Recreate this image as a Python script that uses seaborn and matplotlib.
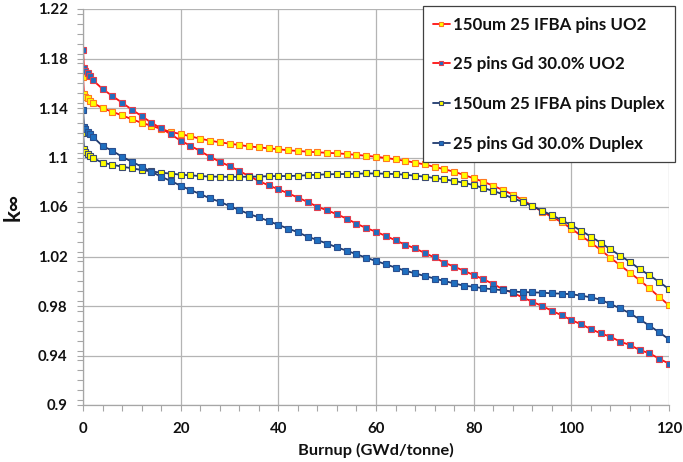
import numpy as np
import pandas as pd
import matplotlib
matplotlib.use("Agg")
import matplotlib.pyplot as plt
from matplotlib.ticker import MultipleLocator, FuncFormatter
import seaborn as sns

# Depletion steps (GWd/tonne)
burnup = [0, 0.2, 0.5, 1, 1.5, 2] + list(range(4, 121, 2))

ifba_uo2 = [
    1.1650, 1.1510, 1.1490, 1.1478, 1.1460, 1.1443,
    1.1398, 1.1370, 1.1340, 1.1310, 1.1280, 1.1257, 1.1230, 1.1206, 1.1190,
    1.1171, 1.1152, 1.1136, 1.1123, 1.1112, 1.1101, 1.1090, 1.1082, 1.1074,
    1.1067, 1.1058, 1.1053, 1.1047, 1.1042, 1.1038, 1.1034, 1.1028, 1.1021,
    1.1014, 1.1006, 1.0996, 1.0985, 1.0973, 1.0958, 1.0944, 1.0924, 1.0905,
    1.0885, 1.0859, 1.0832, 1.0804, 1.0772, 1.0737, 1.0701, 1.0657, 1.0610,
    1.0563, 1.0520, 1.0478, 1.0425, 1.0368, 1.0312, 1.0253, 1.0190, 1.0129,
    1.0069, 1.0008, 0.9943, 0.9873, 0.9806,
]

gd_uo2 = [
    1.1870, 1.1720, 1.1700, 1.1680, 1.1659, 1.1626,
    1.1554, 1.1497, 1.1443, 1.1387, 1.1335, 1.1281, 1.1236, 1.1187, 1.1136,
    1.1095, 1.1052, 1.1006, 1.0966, 1.0931, 1.0891, 1.0850, 1.0810, 1.0775,
    1.0743, 1.0711, 1.0676, 1.0641, 1.0602, 1.0573, 1.0541, 1.0506, 1.0465,
    1.0430, 1.0400, 1.0366, 1.0331, 1.0295, 1.0266, 1.0228, 1.0192, 1.0150,
    1.0118, 1.0085, 1.0050, 1.0016, 0.9978, 0.9935, 0.9907, 0.9870, 0.9835,
    0.9800, 0.9762, 0.9725, 0.9687, 0.9652, 0.9614, 0.9579, 0.9552, 0.9512,
    0.9485, 0.9444, 0.9418, 0.9374, 0.9334,
]

ifba_duplex = [
    1.1198, 1.1072, 1.1047, 1.1028, 1.1013, 1.0996,
    1.0958, 1.0942, 1.0926, 1.0913, 1.0899, 1.0888, 1.0877, 1.0870, 1.0861,
    1.0856, 1.0850, 1.0846, 1.0845, 1.0844, 1.0844, 1.0845, 1.0846, 1.0849,
    1.0850, 1.0850, 1.0853, 1.0857, 1.0861, 1.0864, 1.0866, 1.0867, 1.0869,
    1.0871, 1.0871, 1.0869, 1.0866, 1.0861, 1.0853, 1.0845, 1.0834, 1.0824,
    1.0810, 1.0796, 1.0777, 1.0753, 1.0730, 1.0703, 1.0671, 1.0642, 1.0608,
    1.0570, 1.0534, 1.0495, 1.0452, 1.0409, 1.0360, 1.0312, 1.0258, 1.0207,
    1.0156, 1.0099, 1.0048, 0.9994, 0.9937,
]

gd_duplex = [
    1.1385, 1.1249, 1.1228, 1.1209, 1.1187, 1.1168,
    1.1093, 1.1055, 1.1006, 1.0966, 1.0926, 1.0885, 1.0845, 1.0810, 1.0772,
    1.0737, 1.0705, 1.0670, 1.0643, 1.0608, 1.0576, 1.0543, 1.0517, 1.0487,
    1.0455, 1.0426, 1.0396, 1.0360, 1.0333, 1.0304, 1.0274, 1.0247, 1.0218,
    1.0190, 1.0164, 1.0137, 1.0110, 1.0085, 1.0064, 1.0042, 1.0022, 1.0002,
    0.9983, 0.9964, 0.9956, 0.9943, 0.9935, 0.9927, 0.9916, 0.9913, 0.9910,
    0.9908, 0.9902, 0.9900, 0.9895, 0.9884, 0.9870, 0.9851, 0.9816, 0.9781,
    0.9741, 0.9692, 0.9641, 0.9587, 0.9531,
]

series_labels = [
    "150um 25 IFBA pins UO2",
    "25 pins Gd 30.0% UO2",
    "150um 25 IFBA pins Duplex",
    "25 pins Gd 30.0% Duplex",
]

x_ticks = [0, 20, 40, 60, 80, 100, 120]
y_ticks = [0.9, 0.94, 0.98, 1.02, 1.06, 1.1, 1.14, 1.18, 1.22]

sns.set_style("white")
plt.rcParams["font.family"] = ["Lato", "DejaVu Sans"]
plt.rcParams["font.weight"] = "bold"

RED = "#FF1010"
NAVY = "#1F3A6E"
BLUE = "#1F6FC0"
YELLOW = "#FFFF00"

styles = [
    dict(color=RED, markerfacecolor=YELLOW, markeredgecolor="#FF7A20"),
    dict(color=RED, markerfacecolor=BLUE, markeredgecolor="#E04050"),
    dict(color=NAVY, markerfacecolor=YELLOW, markeredgecolor="#3C4C70"),
    dict(color=NAVY, markerfacecolor=BLUE, markeredgecolor="#2A4F8F"),
]

fig = plt.figure(figsize=(6.83, 4.62), dpi=100)
ax = fig.add_axes([83 / 683, 1 - 405 / 462, (669 - 83) / 683, (405 - 9) / 462])

for vals, lab, st in zip([ifba_uo2, gd_uo2, ifba_duplex, gd_duplex], series_labels, styles):
    df = pd.DataFrame({"burnup": burnup, "kinf": vals})
    sns.lineplot(
        data=df, x="burnup", y="kinf", ax=ax,
        marker="s", markersize=4.4, markeredgewidth=0.8,
        linewidth=1.3, label=lab, sort=False, estimator=None,
        **st,
    )

ax.set_xlim(0, 120)
ax.set_ylim(0.9, 1.22)
ax.set_xticks(x_ticks)
ax.set_yticks(y_ticks)
ax.xaxis.set_minor_locator(MultipleLocator(4))
ax.yaxis.set_minor_locator(MultipleLocator(0.008))
ax.yaxis.set_major_formatter(FuncFormatter(lambda v, p: f"{v:g}"))

ax.grid(True, which="major", color="#B4B4B4", linewidth=0.9)
ax.set_axisbelow(True)
for side in ("top", "right"):
    ax.spines[side].set_visible(False)
for side in ("left", "bottom"):
    ax.spines[side].set_color("#A6A6A6")
    ax.spines[side].set_linewidth(0.9)

ax.tick_params(axis="both", which="both", direction="out", color="#A6A6A6",
               left=True, bottom=True)
ax.tick_params(axis="both", which="major", length=4, width=0.8, labelsize=10.8,
               labelcolor="#111111")
ax.tick_params(axis="both", which="minor", length=4, width=0.8)
ax.tick_params(axis="y", which="major", pad=7)
ax.tick_params(axis="x", which="major", pad=8)
for lbl in ax.get_xticklabels() + ax.get_yticklabels():
    lbl.set_fontweight("bold")

ax.set_xlabel("Burnup (GWd/tonne)", fontsize=11.8, fontweight="bold",
              color="#111111", labelpad=5)
ax.set_ylabel("k∞", fontsize=16, fontweight="bold", color="#111111", labelpad=10)

leg = ax.legend(
    loc="upper right", bbox_to_anchor=(675 / 683, 1 - 6.5 / 462),
    bbox_transform=fig.transFigure, borderaxespad=0,
    frameon=True, fancybox=False, framealpha=1, edgecolor="#404040",
    prop=dict(family=["Lato", "DejaVu Sans"], weight="bold", size=12.2),
    labelspacing=1.4, handlelength=1.0, handletextpad=0.2, borderpad=0.6,
    markerscale=0.8,
)
leg.get_frame().set_linewidth(0.9)
for t in leg.get_texts():
    t.set_color("#111111")

fig.savefig("out.png", dpi=100)
